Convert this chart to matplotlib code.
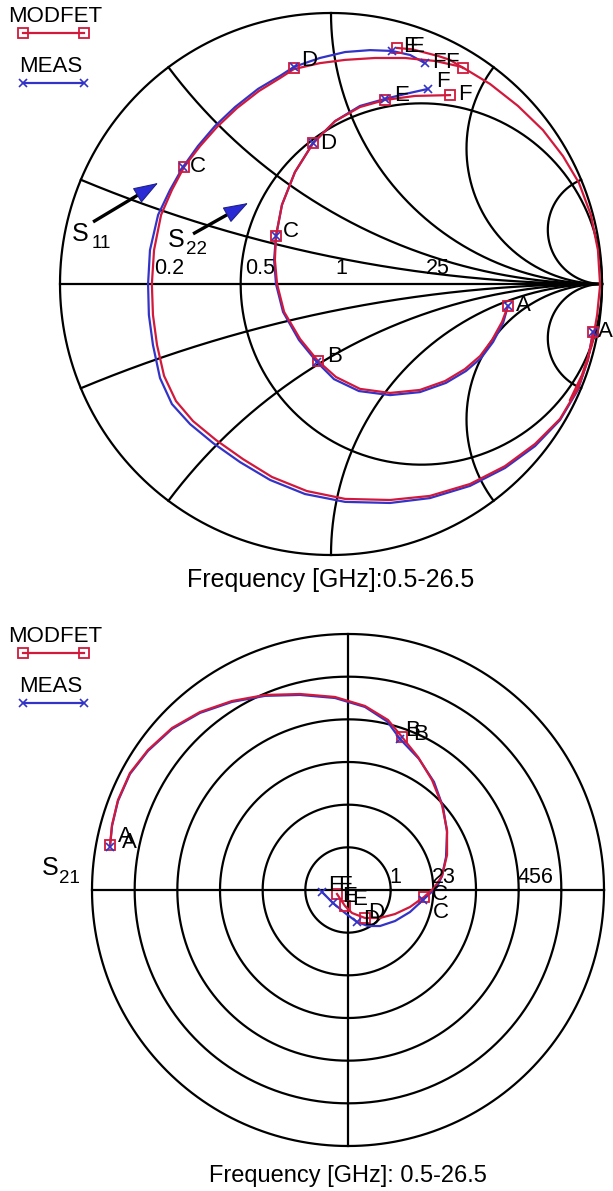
import numpy as np
import matplotlib.pyplot as plt

plt.rcParams['font.family'] = ['Liberation Sans', 'DejaVu Sans']

RED = '#d2193c'
BLUE = '#3333c8'

# ---------------- S11 / S22 (reflection coefficient, re / im) ----------------
s11_meas_re = [0.967, 0.948, 0.911, 0.845, 0.753, 0.642, 0.513, 0.365, 0.218, 0.052,
               -0.096, -0.225, -0.336, -0.435, -0.520, -0.587, -0.631, -0.657, -0.672, -0.675,
               -0.668, -0.638, -0.594, -0.546, -0.491, -0.428, -0.354, -0.269, -0.188, -0.137,
               -0.041, 0.052, 0.144, 0.225, 0.292, 0.347]
s11_meas_im = [-0.177, -0.280, -0.391, -0.502, -0.598, -0.679, -0.745, -0.790, -0.808, -0.804,
               -0.775, -0.723, -0.657, -0.587, -0.517, -0.443, -0.347, -0.225, -0.114, 0.0,
               0.125, 0.255, 0.347, 0.432, 0.509, 0.583, 0.653, 0.720, 0.768, 0.801,
               0.834, 0.856, 0.863, 0.860, 0.845, 0.815]

s11_mod_re = [0.967, 0.948, 0.911, 0.845, 0.753, 0.642, 0.513, 0.365, 0.218, 0.052,
              -0.089, -0.218, -0.325, -0.424, -0.509, -0.572, -0.616, -0.642, -0.657, -0.661,
              -0.653, -0.627, -0.587, -0.542, -0.483, -0.421, -0.347, -0.266, -0.188, -0.137,
              -0.041, 0.052, 0.162, 0.273, 0.384, 0.483, 0.587, 0.690, 0.782, 0.856,
              0.915, 0.959, 0.985, 0.993, 0.982, 0.963, 0.926, 0.882]
s11_mod_im = [-0.177, -0.280, -0.387, -0.498, -0.590, -0.672, -0.738, -0.782, -0.797, -0.793,
              -0.764, -0.712, -0.646, -0.576, -0.506, -0.432, -0.339, -0.225, -0.114, 0.0,
              0.125, 0.255, 0.347, 0.432, 0.509, 0.579, 0.649, 0.712, 0.760, 0.793,
              0.815, 0.827, 0.834, 0.834, 0.823, 0.801, 0.738, 0.657, 0.568, 0.472,
              0.373, 0.255, 0.125, -0.004, -0.114, -0.225, -0.336, -0.428]
# upper MODFET branch between E and F
s11_mod2_re = [0.244, 0.300, 0.354, 0.400, 0.439, 0.487]
s11_mod2_im = [0.871, 0.866, 0.852, 0.840, 0.827, 0.797]

s22_mod_re = [0.653, 0.631, 0.594, 0.550, 0.494, 0.421, 0.328, 0.218, 0.107, 0.018,
              -0.048, -0.114, -0.173, -0.199, -0.207, -0.203, -0.181, -0.133, -0.066, 0.015,
              0.107, 0.199, 0.310, 0.439]
s22_mod_im = [-0.081, -0.140, -0.207, -0.266, -0.314, -0.358, -0.391, -0.402, -0.387, -0.343,
              -0.284, -0.203, -0.103, 0.0, 0.089, 0.177, 0.292, 0.413, 0.520, 0.601,
              0.653, 0.679, 0.694, 0.697]
s22_meas_re = [0.653, 0.635, 0.598, 0.554, 0.498, 0.424, 0.328, 0.218, 0.103, 0.011,
               -0.052, -0.118, -0.177, -0.203, -0.210, -0.203, -0.181, -0.133, -0.066, 0.015,
               0.107, 0.199, 0.273, 0.358]
s22_meas_im = [-0.081, -0.144, -0.214, -0.273, -0.321, -0.365, -0.399, -0.410, -0.395, -0.351,
               -0.288, -0.207, -0.103, 0.0, 0.089, 0.177, 0.292, 0.413, 0.520, 0.601,
               0.657, 0.683, 0.701, 0.720]

# frequency markers  (A..F)
s11_mod_mk = [('A', 0.967, -0.177), ('C', -0.542, 0.432), ('D', -0.137, 0.797),
              ('E', 0.244, 0.871), ('F', 0.487, 0.797)]
s11_meas_mk = [('A', 0.967, -0.177), ('C', -0.546, 0.432), ('D', -0.137, 0.801),
               ('E', 0.225, 0.860), ('F', 0.347, 0.815)]
s22_mod_mk = [('A', 0.653, -0.081), ('B', -0.048, -0.284), ('C', -0.203, 0.177),
              ('D', -0.066, 0.520), ('E', 0.199, 0.679), ('F', 0.439, 0.697)]
s22_meas_mk = [('A', 0.653, -0.081), ('B', -0.050, -0.286), ('C', -0.203, 0.177),
               ('D', -0.066, 0.520), ('E', 0.199, 0.683), ('F', 0.358, 0.720)]

# label positions of the marker letters
smith_labels = [('A', 0.985, -0.177), ('C', -0.520, 0.432), ('D', -0.111, 0.823),
                ('E', 0.266, 0.878), ('E', 0.290, 0.878), ('F', 0.373, 0.819), ('F', 0.421, 0.819),
                ('A', 0.683, -0.081), ('B', -0.015, -0.269), ('C', -0.177, 0.192),
                ('D', -0.041, 0.520), ('E', 0.232, 0.694), ('F', 0.387, 0.749), ('F', 0.469, 0.701)]

r_ticks = [0.2, 0.5, 1, 2]
r_tick_text = ['0.2', '0.5', '1', '25']
r_grid = [0.5]
x_grid = [0.2, 0.5, 1, 2, 5]

# ---------------- S21 (linear, real / imag) ----------------
s21_mod_re = [-5.578, -5.531, -5.391, -5.110, -4.688, -4.125, -3.469, -2.719, -1.945, -1.125,
              -0.305, 0.398, 0.938, 1.266, 1.641, 1.969, 2.203, 2.321, 2.321, 2.203,
              2.016, 1.781, 1.453, 1.102, 0.750, 0.398, 0.094, -0.070, -0.258]
s21_mod_im = [1.055, 1.523, 2.110, 2.742, 3.282, 3.797, 4.172, 4.430, 4.571, 4.594,
              4.524, 4.313, 3.985, 3.586, 3.118, 2.578, 1.992, 1.406, 0.820, 0.328,
              0.047, -0.164, -0.398, -0.563, -0.656, -0.656, -0.539, -0.375, -0.094]
s21_meas_re = [-5.578, -5.531, -5.391, -5.110, -4.688, -4.125, -3.469, -2.719, -1.945, -1.125,
               -0.305, 0.398, 0.920, 1.220, 1.664, 2.016, 2.227, 2.321, 2.297, 2.203,
               2.086, 1.758, 1.453, 1.102, 0.750, 0.469, 0.211, -0.070, -0.352, -0.609]
s21_meas_im = [1.008, 1.500, 2.086, 2.720, 3.260, 3.775, 4.150, 4.408, 4.550, 4.572,
               4.500, 4.290, 3.950, 3.539, 3.071, 2.532, 1.946, 1.360, 0.774, 0.328,
               0.070, -0.234, -0.516, -0.727, -0.844, -0.844, -0.750, -0.539, -0.305, -0.047]
s21_mod_mk = [('A', -5.578, 1.055), ('B', 1.266, 3.586), ('C', 1.781, -0.164),
              ('D', 0.398, -0.656), ('E', -0.070, -0.375), ('F', -0.258, -0.094)]
s21_meas_mk = [('A', -5.578, 1.008), ('B', 1.220, 3.539), ('C', 1.758, -0.234),
               ('D', 0.211, -0.750), ('E', -0.352, -0.305), ('F', -0.609, -0.047)]
polar_labels = [('A', -5.391, 1.250), ('A', -5.297, 1.102), ('B', 1.336, 3.750), ('B', 1.524, 3.633),
                ('C', 1.969, -0.117), ('C', 1.992, -0.516), ('D', 0.469, -0.539), ('D', 0.352, -0.703),
                ('E', -0.141, -0.164), ('E', 0.094, -0.234), ('F', -0.469, 0.117), ('F', -0.234, 0.117)]
mag_circles = [1, 2, 3, 4, 5, 6]
mag_tick_pos = [1, 2, 4]
mag_tick_text = ['1', '23', '456']

W, H = 613, 1191
fig = plt.figure(figsize=(W / 100, H / 100), dpi=100)


def box(cx, cy, rpx, pad):
    rr = rpx * pad
    return [(cx - rr) / W, (H - cy - rr) / H, 2 * rr / W, 2 * rr / H]


def gamma(z):
    g = (z - 1) / (z + 1)
    return g.real, g.imag


LW = 1.6
LBL = 16
# ---------------- Smith chart ----------------
ax1 = fig.add_axes(box(331, 284, 271, 1.03))
ax1.set_xlim(-1.03, 1.03)
ax1.set_ylim(-1.03, 1.03)
ax1.axis('off')

t = np.linspace(0, 2 * np.pi, 721)
ax1.plot(np.cos(t), np.sin(t), color='black', lw=LW)
ax1.plot([-1, 1], [0, 0], color='black', lw=LW)
xx = np.tan(np.linspace(-np.pi / 2 + 1e-4, np.pi / 2 - 1e-4, 2000))
for r in r_grid:
    gx, gy = gamma(r + 1j * xx)
    ax1.plot(gx, gy, color='black', lw=LW)
rr = np.tan(np.linspace(0, np.pi / 2 - 1e-4, 1500))
for xv in x_grid:
    for s in (1, -1):
        gx, gy = gamma(rr + 1j * s * xv)
        ax1.plot(gx, gy, color='black', lw=LW)

for r, txt in zip(r_ticks, r_tick_text):
    ax1.text((r - 1) / (r + 1) + 0.015, 0.02, txt, fontsize=15.5, ha='left', va='bottom')

ax1.plot(s11_meas_re, s11_meas_im, color=BLUE, lw=1.6)
ax1.plot(s22_meas_re, s22_meas_im, color=BLUE, lw=1.6)
ax1.plot(s11_mod_re, s11_mod_im, color=RED, lw=1.6)
ax1.plot(s11_mod2_re, s11_mod2_im, color=RED, lw=1.6)
ax1.plot(s22_mod_re, s22_mod_im, color=RED, lw=1.6)
for mk in (s11_mod_mk, s22_mod_mk):
    ax1.plot([m[1] for m in mk], [m[2] for m in mk], ls='none', marker='s', ms=6.5,
             mfc='none', mec=RED, mew=1.3)
for mk in (s11_meas_mk, s22_meas_mk):
    ax1.plot([m[1] for m in mk], [m[2] for m in mk], ls='none', marker='x', ms=6,
             color=BLUE, mew=1.2)
for txt, lx, ly in smith_labels:
    ax1.text(lx, ly, txt, fontsize=LBL, ha='left', va='center')

# S11 / S22 arrows: black shaft, blue head
for tail, head in [((-0.878, 0.229), (-0.638, 0.373)), ((-0.509, 0.185), (-0.306, 0.299))]:
    d = np.subtract(head, tail)
    base = np.add(tail, d * 0.7)
    ax1.plot([tail[0], base[0]], [tail[1], base[1]], color='black', lw=2.4,
             solid_capstyle='butt')
    ax1.annotate('', xy=head, xytext=tuple(base),
                 arrowprops=dict(arrowstyle='-|>,head_length=1.6,head_width=0.55',
                                 fc='#2b2bd6', ec='#20208a', lw=0.8,
                                 shrinkA=0, shrinkB=0))
ax1.text(-0.955, 0.185, 'S', fontsize=18, ha='left', va='center')
ax1.text(-0.885, 0.150, '11', fontsize=13.5, ha='left', va='center')
ax1.text(-0.604, 0.162, 'S', fontsize=18, ha='left', va='center')
ax1.text(-0.536, 0.127, '22', fontsize=13.5, ha='left', va='center')

# ---------------- polar S21 ----------------
ax2 = fig.add_axes(box(348, 890, 256, 1.03))
ax2.set_xlim(-6 * 1.03, 6 * 1.03)
ax2.set_ylim(-6 * 1.03, 6 * 1.03)
ax2.axis('off')
for m in mag_circles:
    ax2.plot(m * np.cos(t), m * np.sin(t), color='black', lw=LW)
ax2.plot([-6, 6], [0, 0], color='black', lw=LW)
ax2.plot([0, 0], [-6, 6], color='black', lw=LW)
for p, txt in zip(mag_tick_pos, mag_tick_text):
    ax2.text(p - 0.03, 0.05, txt, fontsize=15.5, ha='left', va='bottom')

ax2.plot(s21_meas_re, s21_meas_im, color=BLUE, lw=1.6)
ax2.plot(s21_mod_re, s21_mod_im, color=RED, lw=1.6)
ax2.plot([m[1] for m in s21_mod_mk], [m[2] for m in s21_mod_mk], ls='none', marker='s',
         ms=6.5, mfc='none', mec=RED, mew=1.3)
ax2.plot([m[1] for m in s21_meas_mk], [m[2] for m in s21_meas_mk], ls='none', marker='x',
         ms=6, color=BLUE, mew=1.2)
for txt, lx, ly in polar_labels:
    ax2.text(lx, ly, txt, fontsize=LBL, ha='left', va='center')
ax2.text(-7.17, 0.516, 'S', fontsize=18, ha='left', va='center')
ax2.text(-6.78, 0.270, '21', fontsize=13.5, ha='left', va='center')

# ---------------- legends and captions ----------------
ax0 = fig.add_axes([0, 0, 1, 1], zorder=-1)
ax0.set_xlim(0, W)
ax0.set_ylim(H, 0)
ax0.axis('off')
for dy in (0, 620):
    ax0.text(8, 16 + dy, 'MODFET', fontsize=16, ha='left', va='center')
    ax0.plot([23, 84], [33 + dy, 33 + dy], color=RED, lw=1.6, marker='s', ms=6.5,
             mfc='none', mec=RED, mew=1.3)
    ax0.text(19, 67 + dy, 'MEAS', fontsize=16, ha='left', va='center')
    ax0.plot([23, 84], [83 + dy, 83 + dy], color=BLUE, lw=1.6, marker='x', ms=6, mew=1.2)

fig.text(331 / W, 1 - 580 / H, 'Frequency [GHz]:0.5-26.5', fontsize=18, ha='center', va='center')
fig.text(348 / W, 1 - 1176 / H, 'Frequency [GHz]: 0.5-26.5', fontsize=17, ha='center', va='center')

fig.savefig('out.png', dpi=100)
